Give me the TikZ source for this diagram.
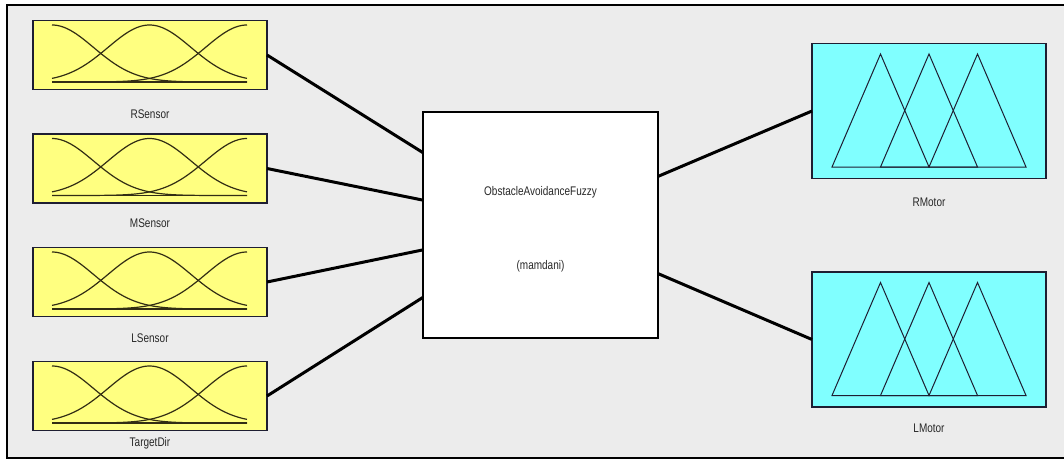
\documentclass[tikz,border=0pt]{standalone}
\usepackage{fontspec}
\setmainfont{Liberation Sans}[FakeStretch=0.8]
\usetikzlibrary{calc}
\definecolor{bggray}{RGB}{236,236,236}
\definecolor{fisyellow}{RGB}{255,255,128}
\definecolor{fiscyan}{RGB}{128,255,255}
\definecolor{boxline}{RGB}{30,30,50}
\definecolor{curveline}{RGB}{50,45,20}
\definecolor{labeltext}{RGB}{40,40,40}
\tikzset{
  inbox/.style={draw=boxline, fill=fisyellow, line width=1.3pt, minimum width=234pt, minimum height=69pt, inner sep=0pt, outer sep=0pt},
  outbox/.style={draw=boxline, fill=fiscyan, line width=1.3pt, minimum width=234pt, minimum height=135pt, inner sep=0pt, outer sep=0pt},
  fisbox/.style={draw=black, fill=white, line width=2.7pt, minimum width=235pt, minimum height=226pt, inner sep=0pt, outer sep=0pt},
  lbl/.style={text=labeltext, font=\fontsize{12.5}{14}\selectfont, inner sep=0pt},
  mfcurve/.style={draw=curveline, line width=1.2pt},
  tri/.style={draw=boxline, line width=1pt, line join=miter},
  conn/.style={draw=black, line width=3pt}
}
\begin{document}
\begin{tikzpicture}[x=1pt,y=-1pt]
\useasboundingbox (0,0) rectangle (1064,461);
\fill[bggray] (7,5) rectangle (1064,458);
\draw[line width=1.5pt] (1064,5) -- (7,5) -- (7,458) -- (1064,458);

% input blocks
\foreach \nm/\cy/\lab/\ly in {rs/55/RSensor/114, ms/168.5/MSensor/223, ls/282/LSensor/338, td/396/TargetDir/443}{
  \node[inbox] (\nm) at (150,\cy) {};
  \draw[mfcurve] plot[domain=52:247, samples=90, smooth] (\x,{\cy+27-57*exp(-0.5*((\x-52)/41.5)^2)});
  \draw[mfcurve] plot[domain=52:247, samples=90, smooth] (\x,{\cy+27-57*exp(-0.5*((\x-149.5)/41.5)^2)});
  \draw[mfcurve] plot[domain=52:247, samples=90, smooth] (\x,{\cy+27-57*exp(-0.5*((\x-247)/41.5)^2)});
  \draw[mfcurve] (52,{\cy+27}) -- (247,{\cy+27});
  \node[lbl] (\nm-label) at (150,\ly) {\lab};
}

% FIS block
\node[fisbox] (fis) at (540.5,225) {};
\node[lbl] (fis-name) at (540.5,192) {ObstacleAvoidanceFuzzy};
\node[lbl] (fis-type) at (540.5,266) {(mamdani)};

% output blocks
\foreach \nm/\cy/\lab/\ly in {rm/111/RMotor/202, lm/339.5/LMotor/428}{
  \node[outbox] (\nm) at (929,\cy) {};
  \draw[tri] (832,{\cy+56}) -- (880.5,{\cy-57}) -- (929,{\cy+56}) -- cycle;
  \draw[tri] (880.5,{\cy+56}) -- (929,{\cy-57}) -- (977.5,{\cy+56}) -- cycle;
  \draw[tri] (929,{\cy+56}) -- (977.5,{\cy-57}) -- (1026,{\cy+56}) -- cycle;
  \node[lbl] (\nm-label) at (929,\ly) {\lab};
}

% connectors
\draw[conn] (rs.east) -- ($(fis.north west)!0.18!(fis.south west)$);
\draw[conn] (ms.east) -- ($(fis.north west)!0.39!(fis.south west)$);
\draw[conn] (ls.east) -- ($(fis.north west)!0.61!(fis.south west)$);
\draw[conn] (td.east) -- ($(fis.north west)!0.82!(fis.south west)$);
\draw[conn] ($(fis.north east)!0.285!(fis.south east)$) -- (rm.west);
\draw[conn] ($(fis.north east)!0.715!(fis.south east)$) -- (lm.west);
\end{tikzpicture}
\end{document}
